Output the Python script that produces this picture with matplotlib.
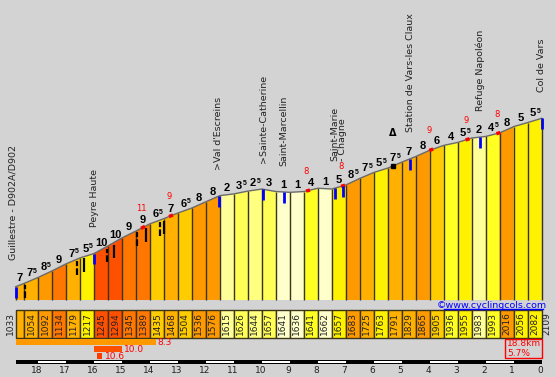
import numpy as np
import matplotlib
matplotlib.use('Agg')
import matplotlib.pyplot as plt
from matplotlib.patches import Polygon, Rectangle

# profile: km to go and altitude (m)
km_pts = [18.8, 18.5, 18.0, 17.5, 17.0, 16.5, 16.0, 15.5, 15.0, 14.5, 14.0, 13.5, 13.0,
          12.5, 12.0, 11.5, 11.0, 10.5, 10.0, 9.5, 9.0, 8.5, 8.0, 7.5, 7.0, 6.5, 6.0,
          5.5, 5.0, 4.5, 4.0, 3.5, 3.0, 2.5, 2.0, 1.5, 1.0, 0.5, 0.0]
elev_pts = [1033, 1054, 1092, 1134, 1179, 1217, 1245, 1294, 1345, 1389, 1435, 1468, 1504,
            1536, 1576, 1615, 1626, 1644, 1657, 1641, 1636, 1641, 1662, 1657, 1683, 1725, 1763,
            1791, 1829, 1865, 1905, 1936, 1955, 1983, 1993, 2016, 2056, 2082, 2109]

# places along the climb
place_names = ['Guillestre - D902A/D902', 'Peyre Haute', ">Val d'Escreins", '>Sainte-Catherine',
               'Saint-Marcellin', 'Saint-Marie\n- Chagne', 'Station de Vars-les Claux',
               'Refuge Napoléon', 'Col de Vars']
place_km = [18.9, 16.0, 11.55, 9.95, 9.2, 7.25, 4.7, 2.2, 0.0]
marker_km = [18.8, 16.0, 11.55, 9.95, 9.2, 7.4, 7.1, 4.7, 2.2, 0.0]

# steepest 100m inside a segment (red)
max_km = [14.25, 13.25, 8.35, 7.1, 3.95, 2.65, 1.55]
max_val = [11, 9, 8, 8, 9, 9, 8]

# hairpins (black marks)
turn_km = [18.45, 16.6, 16.35, 15.55, 15.3, 14.45, 14.15, 13.65, 13.5]
turn_dash = [True, True, False, True, False, True, False, True, False]

station_km = 5.33

# steepest stretches: from km, to km, average %
steep_from = [18.8, 16.0, 15.9]
steep_to = [13.8, 15.0, 15.7]
steep_avg = [8.3, 10.0, 10.6]

total_km = 18.8
total_avg = 5.7

BG = '#D3D3D3'
EDGE = '#3c3418'
BASE = 948


def grad_color(g):
    r = round(abs(g) * 2) / 2
    steps = [(1.5, '#FFFFCC'), (2.5, '#FFFF99'), (3, '#FFFF80'), (4, '#FFFF55'),
             (5, '#FFFF22'), (6, '#FFF200'), (7, '#FFCC00'), (8, '#FFB000'),
             (9, '#FF9900'), (10, '#FF7700'), (10.5, '#FF5000')]
    for lim, c in steps:
        if r < lim:
            return c
    return '#FF3C00'


def elev_at(k):
    return np.interp(k, km_pts[::-1], elev_pts[::-1])


fig = plt.figure(figsize=(5.56, 3.77), dpi=100, facecolor=BG)
ax = fig.add_axes([0, 0, 1, 1])
ax.set_xlim(19.36, -0.511)
ax.set_ylim(456, 2865)
ax.set_axis_off()

ax2 = fig.add_axes([0, 0, 1, 1], sharex=ax)
ax2.set_ylim(377, 0)
ax2.set_axis_off()
ax2.patch.set_visible(False)

n_seg = len(km_pts) - 1
grads = [(elev_pts[i + 1] - elev_pts[i]) / (km_pts[i] - km_pts[i + 1]) / 10 for i in range(n_seg)]

# profile
for i in range(n_seg):
    k0, k1 = km_pts[i], km_pts[i + 1]
    poly = Polygon([(k0, BASE), (k0, elev_pts[i]), (k1, elev_pts[i + 1]), (k1, BASE)],
                   facecolor=grad_color(grads[i]), edgecolor='none')
    ax.add_patch(poly)
ax.vlines(km_pts, BASE, elev_pts, color=EDGE, lw=1)
ax.plot(km_pts, elev_pts, color='#6a6a6a', lw=1)

# gradient labels
for i in range(n_seg):
    km_mid = (km_pts[i] + km_pts[i + 1]) / 2
    e_mid = (elev_pts[i] + elev_pts[i + 1]) / 2
    r = round(abs(grads[i]) * 2) / 2
    whole = int(r)
    if r - whole == 0.5:
        ax.annotate(str(whole), (km_mid, e_mid), xytext=(1, 5), textcoords='offset points',
                    ha='right', va='center', fontsize=8, fontweight='bold', family='Liberation Sans')
        ax.annotate('5', (km_mid, e_mid), xytext=(1.5, 6.5), textcoords='offset points',
                    ha='left', va='center', fontsize=5, fontweight='bold', family='Liberation Sans')
    else:
        ax.annotate(str(whole), (km_mid, e_mid), xytext=(0, 5), textcoords='offset points',
                    ha='center', va='center', fontsize=8, fontweight='bold', family='Liberation Sans')

# hairpins
for k, d in zip(turn_km, turn_dash):
    e = elev_at(k)
    ax.vlines(k, e - 100, e - 12, color='black', lw=1.6,
              linestyles=(0, (3, 1)) if d else 'solid')

# steepest points
for k, v in zip(max_km, max_val):
    kk = np.array([k + 0.07, k - 0.07])
    ax.plot(kk, elev_at(kk), color='red', lw=2.5, solid_capstyle='butt')
    ax.annotate(str(v), (k, elev_at(k)), xytext=(-1.2, 13.7), textcoords='offset points',
                ha='center', va='center', fontsize=6, color='red')

# places
for k in marker_km:
    e = elev_at(k)
    ax.vlines(k, max(e - 70, BASE), e, color='#0000FF', lw=2)
for name, k in zip(place_names, place_km):
    ax.annotate(name, (k, elev_at(k)), xytext=(0, 19), textcoords='offset points',
                rotation=90, ha='center', va='bottom', fontsize=6.8, color='#222222',
                multialignment='left', linespacing=0.85)

ax.plot(station_km, elev_at(station_km), marker='s', ms=3, color='black')
ax.annotate('Δ', (station_km, elev_at(station_km)), xytext=(0, 23.5), textcoords='offset points',
            ha='center', va='center', fontsize=7, fontweight='bold')

# altitude strip
for i in range(n_seg):
    k0, k1 = km_pts[i], km_pts[i + 1]
    ax2.add_patch(Rectangle((k0, 309.5), k1 - k0, 28.2, facecolor=grad_color(grads[i]),
                            edgecolor=EDGE, lw=1))
    if i > 0:
        ax2.text((k0 + k1) / 2, 323.5, str(elev_pts[i]), rotation=90, ha='center', va='center',
                 fontsize=6.5, color='#222222')
ax2.text(19.0, 323.5, str(elev_pts[0]), rotation=90, ha='center', va='center',
         fontsize=6.5, color='#222222')
ax2.text(-0.17, 323.5, str(elev_pts[-1]), rotation=90, ha='center', va='center',
         fontsize=6.5, color='#222222')

ax2.text(3.74, 305, '©www.cyclingcols.com', ha='left', va='center', fontsize=6.8, color='#0000FF')
ax2.plot([3.49, -0.05], [309, 309], color='#0000FF', lw=1)

# steepest stretches
for j, (k0, k1, a) in enumerate(zip(steep_from, steep_to, steep_avg)):
    y = 339.3 + j * 7
    ax2.add_patch(Rectangle((k0, y), k1 - k0, 5.5, facecolor=grad_color(a), edgecolor='none'))
    ax2.text(k1 - 0.08, y + 2.9, '%.1f' % a, ha='left', va='center', fontsize=6.5, color='red')

# summary
ax2.add_patch(Rectangle((1.3, 338.5), -1.3, 19.5, facecolor='none', edgecolor='red', lw=1))
ax2.text(1.24, 343.5, '%.1fkm' % total_km, ha='left', va='center', fontsize=6.5, color='red')
ax2.text(1.24, 353, '%.1f%%' % total_avg, ha='left', va='center', fontsize=6.5, color='red')

# km scale
ax2.add_patch(Rectangle((km_pts[0], 360), -km_pts[0], 3.5, facecolor='black', edgecolor='none'))
for k in range(1, 19, 2):
    ax2.add_patch(Rectangle((k, 360.8), 1, 1.9, facecolor='white', edgecolor='none'))
for k in range(0, 19):
    ax2.text(k + 0.05, 370.5, str(k), ha='center', va='center', fontsize=6.5, color='#222222')

plt.savefig('out.png', dpi=100, facecolor=BG)
plt.close('all')
